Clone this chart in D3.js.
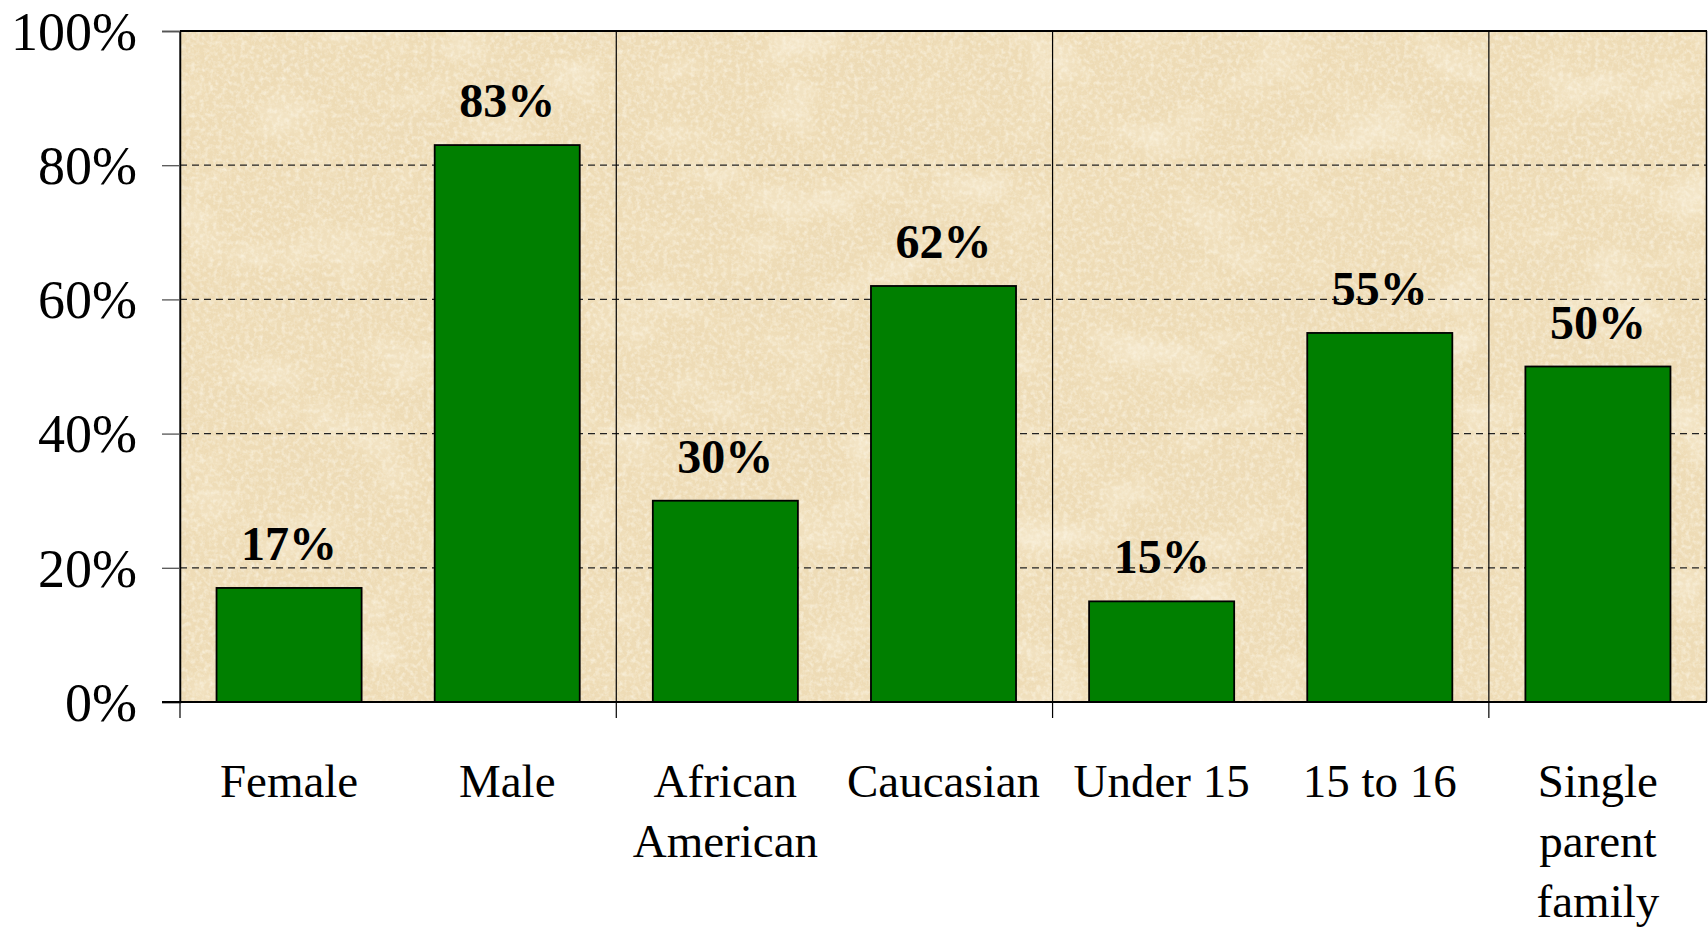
<!DOCTYPE html>
<html>
<head>
<meta charset="utf-8">
<script src="https://cdn.jsdelivr.net/npm/d3@7"></script>
<style>
  html, body { margin: 0; padding: 0; background: #fff; }
  svg { display: block; }
</style>
</head>
<body>
<div id="chart"></div>
<script>
// data
const categories = ["Female", "Male", "African\nAmerican", "Caucasian", "Under 15", "15 to 16", "Single\nparent\nfamily"];
const values = [0.17, 0.83, 0.30, 0.62, 0.15, 0.55, 0.50];
const yTicks = [0, 0.2, 0.4, 0.6, 0.8, 1.0];
const groupEvery = 2; // a separator after every pair of bars

const width = 1708;
const height = 930;
const margin = { top: 31, right: 1, bottom: 228, left: 180 };
const serif = "'Liberation Serif', 'Times New Roman', serif";

const svg = d3.select("#chart")
  .append("svg")
  .attr("width", width)
  .attr("height", height);

const x = d3.scaleBand()
  .domain(categories)
  .range([margin.left, width - margin.right])
  .paddingInner(0.335)
  .paddingOuter(0.1675);

const y = d3.scaleLinear()
  .domain([0, 1])
  .range([height - margin.bottom, margin.top]);

const plotW = width - margin.right - margin.left;
const plotH = y(0) - y(1);

// parchment texture
const defs = svg.append("defs");
const tex = defs.append("filter")
  .attr("id", "parchment")
  .attr("x", 0).attr("y", 0).attr("width", 1).attr("height", 1);
tex.append("feTurbulence")
  .attr("type", "fractalNoise")
  .attr("baseFrequency", "0.012 0.018")
  .attr("numOctaves", 5)
  .attr("seed", 7)
  .attr("result", "big");
tex.append("feColorMatrix")
  .attr("in", "big")
  .attr("type", "matrix")
  .attr("values", "0 0 0 0 0.84  0 0 0 0 0.70  0 0 0 0 0.46  1.5 0 0 0 -0.6")
  .attr("result", "blotch");
tex.append("feColorMatrix")
  .attr("in", "big")
  .attr("type", "matrix")
  .attr("values", "0 0 0 0 0.97  0 0 0 0 0.91  0 0 0 0 0.77  -1.5 0 0 0 0.7")
  .attr("result", "light");
tex.append("feTurbulence")
  .attr("type", "fractalNoise")
  .attr("baseFrequency", "0.22")
  .attr("numOctaves", 3)
  .attr("seed", 3)
  .attr("result", "fine");
tex.append("feColorMatrix")
  .attr("in", "fine")
  .attr("type", "matrix")
  .attr("values", "0 0 0 0 0.97  0 0 0 0 0.92  0 0 0 0 0.79  1.4 0 0 0 -0.55")
  .attr("result", "grain");
tex.append("feColorMatrix")
  .attr("in", "fine")
  .attr("type", "matrix")
  .attr("values", "0 0 0 0 0.86  0 0 0 0 0.74  0 0 0 0 0.53  -1.4 0 0 0 0.6")
  .attr("result", "speck");
tex.append("feMerge").call(m => {
  m.append("feMergeNode").attr("in", "blotch");
  m.append("feMergeNode").attr("in", "light");
  m.append("feMergeNode").attr("in", "grain");
  m.append("feMergeNode").attr("in", "speck");
});

svg.append("rect")
  .attr("x", margin.left).attr("y", margin.top)
  .attr("width", plotW).attr("height", plotH)
  .attr("fill", "#eedbb4");

svg.append("rect")
  .attr("x", margin.left).attr("y", margin.top)
  .attr("width", plotW).attr("height", plotH)
  .attr("fill", "#fff")
  .attr("filter", "url(#parchment)");

// dashed gridlines
svg.append("g")
  .selectAll("line")
  .data(yTicks.filter(t => t > 0 && t < 1))
  .join("line")
  .attr("x1", margin.left).attr("x2", width - margin.right)
  .attr("y1", d => y(d)).attr("y2", d => y(d))
  .attr("stroke", "#222")
  .attr("stroke-width", 1.2)
  .attr("stroke-dasharray", "7,5");

// group separators, running below the axis as ticks
const bounds = d3.range(0, categories.length, groupEvery)
  .map(k => x.range()[0] + k * x.step());

svg.append("g")
  .selectAll("line")
  .data(bounds)
  .join("line")
  .attr("x1", d => d).attr("x2", d => d)
  .attr("y1", margin.top).attr("y2", y(0) + 16)
  .attr("stroke", "#000")
  .attr("stroke-width", 1.2);

// right and top border
svg.append("line")
  .attr("x1", width - margin.right - 0.5).attr("x2", width - margin.right - 0.5)
  .attr("y1", margin.top).attr("y2", y(0))
  .attr("stroke", "#000").attr("stroke-width", 1.5);
svg.append("line")
  .attr("x1", margin.left).attr("x2", width - margin.right)
  .attr("y1", margin.top).attr("y2", margin.top)
  .attr("stroke", "#000").attr("stroke-width", 2);

// bars
svg.append("g")
  .selectAll("rect")
  .data(values)
  .join("rect")
  .attr("x", (d, i) => x(categories[i]))
  .attr("y", d => y(d))
  .attr("width", x.bandwidth())
  .attr("height", d => y(0) - y(d))
  .attr("fill", "#007f00")
  .attr("stroke", "#000")
  .attr("stroke-width", 1.8);

// value labels
svg.append("g")
  .selectAll("text")
  .data(values)
  .join("text")
  .attr("x", (d, i) => x(categories[i]) + x.bandwidth() / 2)
  .attr("y", d => y(d) - 28)
  .attr("text-anchor", "middle")
  .attr("font-family", serif)
  .attr("font-weight", "bold")
  .attr("font-size", 48)
  .attr("fill", "#000")
  .text(d3.format(".0%"));

// y axis
const yAxis = svg.append("g")
  .attr("transform", `translate(${margin.left},0)`)
  .call(d3.axisLeft(y).tickValues(yTicks).tickFormat(d3.format(".0%")).tickSize(18).tickPadding(25));
yAxis.select(".domain").attr("stroke", "#000").attr("stroke-width", 1.5);
yAxis.selectAll(".tick line").attr("stroke", "#555").attr("stroke-width", 1.3);
yAxis.selectAll(".tick text")
  .attr("font-family", serif)
  .attr("font-size", 54)
  .attr("fill", "#000")
  .attr("dy", "0.34em");

// x axis baseline
svg.append("line")
  .attr("x1", margin.left - 18).attr("x2", width - margin.right)
  .attr("y1", y(0)).attr("y2", y(0))
  .attr("stroke", "#000").attr("stroke-width", 2.2);

// category labels
svg.append("g")
  .selectAll("text")
  .data(categories)
  .join("text")
  .attr("x", d => x(d) + x.bandwidth() / 2)
  .attr("y", y(0) + 95)
  .attr("text-anchor", "middle")
  .attr("font-family", serif)
  .attr("font-size", 47)
  .attr("fill", "#000")
  .each(function (d) {
    const t = d3.select(this);
    d.split("\n").forEach((line, i) => {
      t.append("tspan")
        .attr("x", x(d) + x.bandwidth() / 2)
        .attr("dy", i === 0 ? 0 : 60)
        .text(line);
    });
  });
</script>
</body>
</html>
